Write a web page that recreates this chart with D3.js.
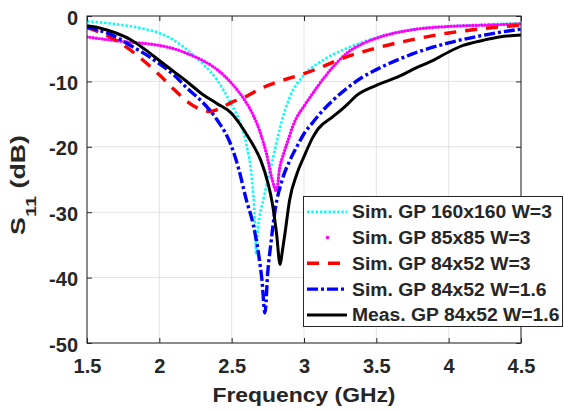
<!DOCTYPE html>
<html><head><meta charset="utf-8">
<script src="https://cdn.jsdelivr.net/npm/d3@7"></script>
<style>
html,body{margin:0;padding:0;background:#fff;}
text{font-family:"Liberation Sans",Arial,sans-serif;font-weight:bold;fill:#262626;}
</style></head>
<body><svg id="chart" width="564" height="411"></svg>
<script>
// ---- data ----
const xTicks = [1.5, 2, 2.5, 3, 3.5, 4, 4.5];
const xTickLabels = ["1.5", "2", "2.5", "3", "3.5", "4", "4.5"];
const yTicks = [0, -10, -20, -30, -40, -50];
const yTickLabels = ["0", "-10", "-20", "-30", "-40", "-50"];

const seriesNames = ["Sim. GP 160x160 W=3", "Sim. GP 85x85 W=3", "Sim. GP 84x52 W=3", "Sim. GP 84x52 W=1.6", "Meas. GP 84x52 W=1.6"];

const freqCyan = [1.5,1.6,1.75,1.9,2.0,2.1,2.2,2.3,2.4,2.5,2.55,2.6,2.64,2.66,2.67,2.68,2.72,2.78,2.85,2.9,3.0,3.1,3.2,3.3,3.5,3.75,4.0,4.25,4.5];
const s11Cyan  = [-0.8,-1.0,-1.4,-2.0,-2.6,-3.7,-5.3,-7.3,-9.8,-13.6,-15.8,-19.5,-25,-31,-36.5,-33,-28,-22.3,-15.8,-12.5,-9.0,-7.2,-5.9,-4.9,-3.3,-2.1,-1.6,-1.3,-1.1];

const freqMagenta = [1.5,1.6,1.75,1.9,2.0,2.1,2.2,2.3,2.4,2.5,2.56,2.6,2.65,2.7,2.74,2.78,2.81,2.83,2.86,2.89,2.92,2.95,3.0,3.1,3.2,3.3,3.4,3.5,3.75,4.0,4.25,4.5];
const s11Magenta  = [-3.2,-3.5,-3.9,-4.2,-4.5,-5.0,-5.8,-6.8,-8.2,-10.3,-11.9,-13.2,-15.2,-18.0,-21.0,-25.0,-26.8,-23.5,-21.0,-19.0,-17.0,-15.5,-13.8,-10.6,-7.8,-5.6,-4.3,-3.4,-2.1,-1.6,-1.4,-1.2];

const freqRed = [1.5,1.6,1.7,1.8,1.9,2.0,2.1,2.2,2.3,2.35,2.4,2.5,2.6,2.7,2.8,2.9,3.0,3.1,3.25,3.5,3.75,4.0,4.25,4.5];
const s11Red  = [-1.8,-2.6,-3.7,-5.2,-7.0,-9.0,-11.2,-13.2,-14.4,-14.6,-14.3,-13.2,-12.3,-11.1,-10.2,-9.5,-8.8,-8.0,-6.6,-4.9,-3.6,-2.6,-1.9,-1.4];

const freqBlue = [1.5,1.6,1.7,1.8,1.9,2.0,2.1,2.2,2.3,2.4,2.5,2.55,2.6,2.65,2.69,2.71,2.73,2.75,2.77,2.8,2.85,2.9,2.95,3.0,3.06,3.1,3.2,3.3,3.4,3.5,3.75,4.0,4.25,4.5];
const s11Blue  = [-1.7,-2.3,-3.2,-4.5,-5.8,-7.3,-9.0,-11.2,-13.2,-15.9,-20.0,-23.5,-28,-32,-37,-40.5,-45.4,-39,-35,-29.7,-25,-22.2,-20,-18.0,-16.3,-15.2,-12.9,-11.0,-9.4,-8.2,-5.8,-4.1,-2.9,-2.0];

const freqMeas = [1.5,1.6,1.7,1.8,1.9,2.0,2.1,2.2,2.3,2.4,2.5,2.55,2.6,2.65,2.7,2.75,2.78,2.81,2.835,2.85,2.87,2.9,2.95,3.0,3.06,3.1,3.2,3.3,3.36,3.5,3.66,3.75,3.9,4.0,4.1,4.24,4.35,4.5];
const s11Meas  = [-1.5,-1.9,-2.6,-3.6,-5.1,-6.8,-8.5,-10.2,-12.0,-13.4,-14.9,-16.3,-18.0,-19.8,-22.0,-25.5,-28.5,-33.2,-38.0,-36,-33,-28.2,-24.2,-21.5,-18.6,-17.2,-15.4,-13.5,-12.2,-10.6,-9.2,-8.2,-6.7,-5.5,-4.5,-3.7,-3.2,-2.9];

// ---- layout ----
const svg = d3.select("#chart");
const L = 87, R = 521, T = 16, B = 343;
const x = d3.scaleLinear().domain([1.5, 4.5]).range([L, R]);
const y = d3.scaleLinear().domain([-50, 0]).range([B, T]);

// grid
const grid = svg.append("g");
grid.selectAll("line.gx").data(xTicks).join("line")
  .attr("x1", d => x(d)).attr("x2", d => x(d)).attr("y1", T).attr("y2", B)
  .attr("stroke", "#e2e2e2").attr("stroke-width", 1);
grid.selectAll("line.gy").data(yTicks).join("line")
  .attr("y1", d => y(d)).attr("y2", d => y(d)).attr("x1", L).attr("x2", R)
  .attr("stroke", "#e2e2e2").attr("stroke-width", 1);

// curves
svg.append("clipPath").attr("id", "clip").append("rect")
  .attr("x", L).attr("y", T).attr("width", R - L).attr("height", B - T);
const plot = svg.append("g").attr("clip-path", "url(#clip)");
const line = d3.line().x(d => x(d[0])).y(d => y(d[1])).curve(d3.curveMonotoneX);
const zip = (f, s) => f.map((v, i) => [v, s[i]]);

const styles = [
  {color: "#00FFFF", width: 2.6, dash: "2.4 1.9", cap: "butt"},
  {color: "#FF00FF", width: 3.4, dash: "0 3.1", cap: "round"},
  {color: "#FF0000", width: 3.4, dash: "12 9", cap: "butt"},
  {color: "#0000FF", width: 3.4, dash: "11 3 3 3", cap: "butt"},
  {color: "#000000", width: 3.0, dash: null, cap: "butt"}
];
const seriesData = [zip(freqCyan, s11Cyan), zip(freqMagenta, s11Magenta), zip(freqRed, s11Red), zip(freqBlue, s11Blue), zip(freqMeas, s11Meas)];

seriesData.forEach((d, i) => {
  const st = styles[i];
  plot.append("path").datum(d).attr("d", line)
    .attr("fill", "none").attr("stroke", st.color).attr("stroke-width", st.width)
    .attr("stroke-dasharray", st.dash).attr("stroke-linecap", st.cap).attr("stroke-linejoin", "round");
});

// axes
const fmtX = (d, i) => xTickLabels[i];
const fmtY = (d, i) => yTickLabels[i];
const gx = svg.append("g").attr("transform", `translate(0,${B})`)
  .call(d3.axisBottom(x).tickValues(xTicks).tickFormat(fmtX).tickSizeInner(-5).tickSizeOuter(0).tickPadding(16));
const gxt = svg.append("g").attr("transform", `translate(0,${T})`)
  .call(d3.axisTop(x).tickValues(xTicks).tickFormat("").tickSizeInner(-5).tickSizeOuter(0));
const gy = svg.append("g").attr("transform", `translate(${L},0)`)
  .call(d3.axisLeft(y).tickValues(yTicks).tickFormat(fmtY).tickSizeInner(-5).tickSizeOuter(0).tickPadding(9));
const gyr = svg.append("g").attr("transform", `translate(${R},0)`)
  .call(d3.axisRight(y).tickValues(yTicks).tickFormat("").tickSizeInner(-5).tickSizeOuter(0));
[gx, gxt, gy, gyr].forEach(g => {
  g.select(".domain").remove();
  g.selectAll(".tick line").attr("stroke", "#262626");
  g.selectAll("text").attr("font-family", null).attr("font-size", null)
    .style("font-size", "20px").attr("fill", "#262626");
});
gy.selectAll("text").attr("dy", "0.4em");
svg.append("rect").attr("x", L).attr("y", T).attr("width", R - L).attr("height", B - T)
  .attr("fill", "none").attr("stroke", "#262626").attr("stroke-width", 1);

// x label
svg.append("text").attr("x", (L + R) / 2).attr("y", 402).attr("text-anchor", "middle")
  .style("font-size", "20px").attr("textLength", 183).attr("lengthAdjust", "spacingAndGlyphs")
  .text("Frequency (GHz)");

// y label
const yl = svg.append("g").attr("transform", "translate(25,185) rotate(-90)");
const ylt = yl.append("text").attr("text-anchor", "middle").style("font-size", "20px");
ylt.append("tspan").text("S");
ylt.append("tspan").attr("dy", 11).style("font-size", "15px").text("11");
ylt.append("tspan").attr("dy", -11).text(" (dB)");
const yw = ylt.node().getComputedTextLength();
ylt.attr("transform", `scale(${100 / yw},1)`);

// legend
const lg = svg.append("g");
const lx0 = 303.5, ly0 = 196.5, lw = 259, lh = 130;
lg.append("rect").attr("x", lx0).attr("y", ly0).attr("width", lw).attr("height", lh)
  .attr("fill", "#fff").attr("stroke", "#262626").attr("stroke-width", 1);
seriesNames.forEach((name, i) => {
  const cy = 211.7 + i * 25.8;
  const st = styles[i];
  if (i === 1) {
    lg.append("circle").attr("cx", 327.5).attr("cy", cy).attr("r", 1.8).attr("fill", st.color);
  } else {
    lg.append("line").attr("x1", 307).attr("x2", 347).attr("y1", cy).attr("y2", cy)
      .attr("stroke", st.color).attr("stroke-width", st.width)
      .attr("stroke-dasharray", st.dash).attr("stroke-linecap", st.cap);
  }
  const t = lg.append("text").attr("x", 352).attr("y", cy + 6.4).style("font-size", "18px").text(name);
  const w = t.node().getComputedTextLength();
  t.attr("textLength", w * 1.073).attr("lengthAdjust", "spacingAndGlyphs");
});
</script></body></html>
